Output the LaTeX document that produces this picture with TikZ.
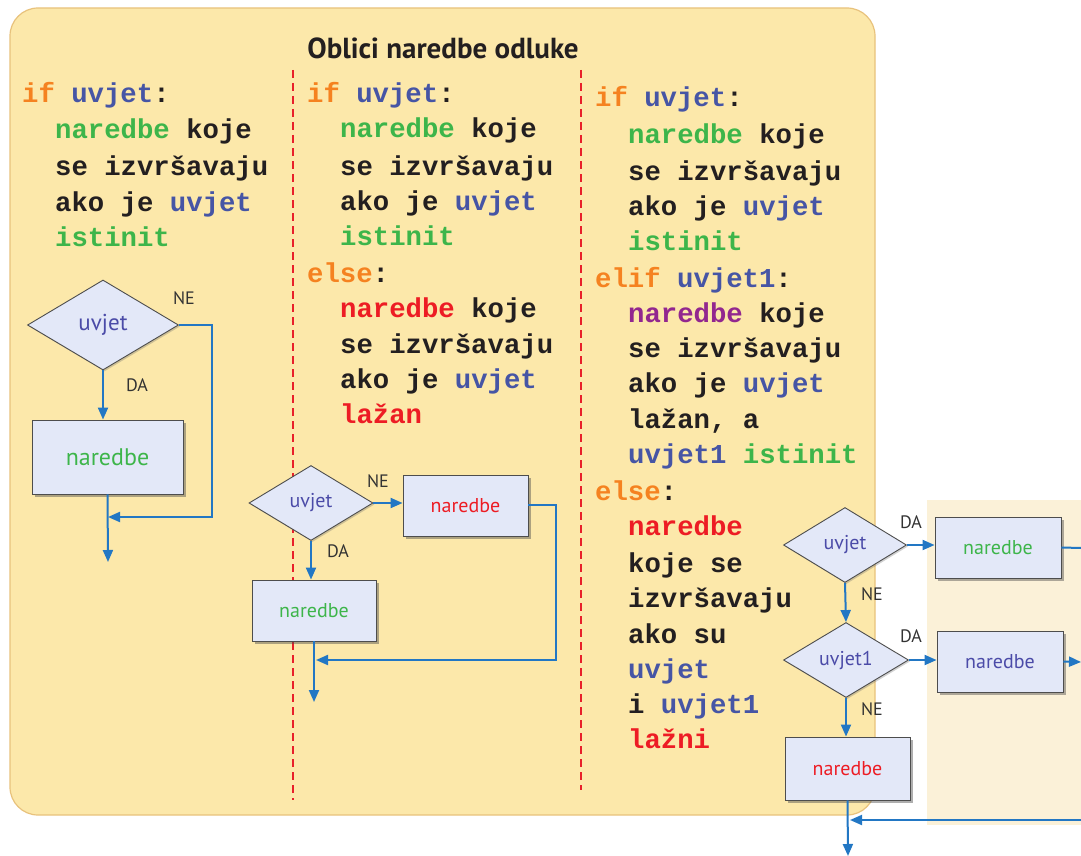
\documentclass[tikz,border=0pt]{standalone}
\usepackage{fontspec}
\usetikzlibrary{shapes.geometric,arrows.meta,shadows}
\newfontfamily\codefont{Liberation Mono}
\newfontfamily\labfont{PT Sans}
\definecolor{panel}{HTML}{FCE8AA}
\definecolor{panelb}{HTML}{FBF1D8}
\definecolor{boxedge}{HTML}{E8C27C}
\definecolor{kwor}{HTML}{F58220}
\definecolor{cblue}{HTML}{4655A5}
\definecolor{cgreen}{HTML}{3DB54A}
\definecolor{cred}{HTML}{ED1C24}
\definecolor{cpurple}{HTML}{92278F}
\definecolor{codetxt}{HTML}{231F20}
\definecolor{flowblue}{HTML}{2277C4}
\definecolor{boxfill}{HTML}{E3E8F8}
\definecolor{boxline}{HTML}{4D4D4D}
\definecolor{diatxt}{HTML}{4B4BA8}
\definecolor{labgray}{HTML}{333333}
\definecolor{dashred}{HTML}{E8202A}
\newcommand{\cKw}[1]{\textcolor{kwor}{#1}}
\newcommand{\cBl}[1]{\textcolor{cblue}{#1}}
\newcommand{\cGn}[1]{\textcolor{cgreen}{#1}}
\newcommand{\cRd}[1]{\textcolor{cred}{#1}}
\newcommand{\cPu}[1]{\textcolor{cpurple}{#1}}
\begin{document}
\begin{tikzpicture}[x=1pt,y=-1pt,
  codeln/.style={anchor=base west, inner sep=0pt, font=\codefont\bfseries\fontsize{27.3}{30}\selectfont, text=codetxt},
  dia/.style={diamond, draw=boxline, fill=boxfill, line width=0.9pt, inner sep=0pt, font=\labfont\fontsize{20}{22}\selectfont, text=diatxt,
     drop shadow={shadow xshift=1.5pt, shadow yshift=-1.5pt, fill=black!60, opacity=0.3}},
  fbox/.style={rectangle, draw=boxline, fill=boxfill, line width=0.9pt, inner sep=0pt, font=\labfont\fontsize{20}{22}\selectfont,
     drop shadow={shadow xshift=2.5pt, shadow yshift=-2.5pt, fill=black!70, opacity=0.45}},
  flowln/.style={draw=flowblue, line width=2pt},
  arr/.style={flowln, -{Triangle[length=12pt,width=10pt]}},
  yn/.style={font=\labfont\fontsize{18}{20}\selectfont, text=labgray, inner sep=0pt},
  reddash/.style={draw=dashred, line width=1.8pt, dash pattern=on 8pt off 5pt}]
\useasboundingbox (0,0) rectangle (1081,856);
% background panels
\draw[draw=boxedge, fill=panel, line width=1.2pt, rounded corners=28pt] (10,8) rectangle (875,815);
\fill[panelb] (927,500) rectangle (1081,825);
% title
\node[font=\labfont\bfseries\fontsize{29}{32}\selectfont, text=codetxt] (title) at (443,48) {Oblici naredbe odluke};
% dashed separators
\draw[reddash] (293,70) -- (293,800);
\draw[reddash] (581,70) -- (581,790);
% column 1 code
\node[codeln] (a1) at (22,103) {\cKw{if} \cBl{uvjet}:};
\node[codeln] (a2) at (55,139) {\cGn{naredbe} koje};
\node[codeln] (a3) at (55,175) {se izvršavaju};
\node[codeln] (a4) at (55,211) {ako je \cBl{uvjet}};
\node[codeln] (a5) at (55,246) {\cGn{istinit}};
% column 2 code
\node[codeln] (b1) at (307,103) {\cKw{if} \cBl{uvjet}:};
\node[codeln] (b2) at (340,138) {\cGn{naredbe} koje};
\node[codeln] (b3) at (340,175) {se izvršavaju};
\node[codeln] (b4) at (340,210) {ako je \cBl{uvjet}};
\node[codeln] (b5) at (340,245) {\cGn{istinit}};
\node[codeln] (b6) at (307,282) {\cKw{else}:};
\node[codeln] (b7) at (340,317) {\cRd{naredbe} koje};
\node[codeln] (b8) at (340,353) {se izvršavaju};
\node[codeln] (b9) at (340,388) {ako je \cBl{uvjet}};
\node[codeln] (b10) at (340,423) {\cRd{lažan}};
% column 3 code
\node[codeln] (c1) at (595,107) {\cKw{if} \cBl{uvjet}:};
\node[codeln] (c2) at (628,143) {\cGn{naredbe} koje};
\node[codeln] (c3) at (628,180) {se izvršavaju};
\node[codeln] (c4) at (628,215) {ako je \cBl{uvjet}};
\node[codeln] (c5) at (628,250) {\cGn{istinit}};
\node[codeln] (c6) at (595,287) {\cKw{elif} \cBl{uvjet1}:};
\node[codeln] (c7) at (628,322) {\cPu{naredbe} koje};
\node[codeln] (c8) at (628,357) {se izvršavaju};
\node[codeln] (c9) at (628,392) {ako je \cBl{uvjet}};
\node[codeln] (c10) at (628,428) {lažan, a};
\node[codeln] (c11) at (628,463) {\cBl{uvjet1} \cGn{istinit}};
\node[codeln] (c12) at (595,500) {\cKw{else}:};
\node[codeln] (c13) at (628,535) {\cRd{naredbe}};
\node[codeln] (c14) at (628,572) {koje se};
\node[codeln] (c15) at (628,607) {izvršavaju};
\node[codeln] (c16) at (628,643) {ako su};
\node[codeln] (c17) at (628,678) {\cBl{uvjet}};
\node[codeln] (c18) at (628,713) {i \cBl{uvjet1}};
\node[codeln] (c19) at (628,748) {\cRd{lažni}};
% ---- flowchart 1
\node[dia, minimum width=151pt, minimum height=90pt, font=\labfont\fontsize{23}{25}\selectfont] (D1) at (103,325) {uvjet};
\node[fbox, minimum width=151pt, minimum height=74pt, text=cgreen, font=\labfont\fontsize{24}{26}\selectfont] (B1) at (107.5,457) {naredbe};
\node[yn] (ne1) at (184,298) {NE};
\node[yn] (da1) at (137,385) {DA};
\coordinate (r1a) at (212,325);
\coordinate (r1b) at (212,517);
\coordinate (m1) at (108,517);
\coordinate (e1) at (108,562);
\draw[arr] (D1.south) -- (D1.south |- B1.north);
\draw[arr] (D1.east) -- (r1a) -- (r1b) -- (m1);
\draw[arr] (B1.south) -- (e1);
% ---- flowchart 2
\node[dia, minimum width=124pt, minimum height=75pt] (D2) at (311,503) {uvjet};
\node[fbox, minimum width=125pt, minimum height=61pt, text=cred] (B2b) at (465.5,505.5) {naredbe};
\node[fbox, minimum width=124pt, minimum height=61pt, text=cgreen] (B2a) at (314,610.5) {naredbe};
\node[yn] (ne2) at (378,481) {NE};
\node[yn] (da2) at (338,551) {DA};
\coordinate (r2a) at (556,505);
\coordinate (r2b) at (556,660);
\coordinate (m2) at (316,660);
\coordinate (e2) at (314,702);
\draw[arr] (D2.south) -- (D2.south |- B2a.north);
\draw[arr] (D2.east) -- (B2b.west |- D2.east);
\draw[arr] (B2b.east |- r2a) -- (r2a) -- (r2b) -- (m2);
\draw[arr] (B2a.south) -- (e2);
% ---- flowchart 3
\node[dia, minimum width=123pt, minimum height=75pt] (D3) at (845,545) {uvjet};
\node[dia, minimum width=125pt, minimum height=75pt] (D4) at (846,660) {uvjet1};
\node[fbox, minimum width=126pt, minimum height=61pt, text=cgreen] (B3a) at (998,547.5) {naredbe};
\node[fbox, minimum width=126pt, minimum height=61pt, text=diatxt] (B3b) at (1000,661.5) {naredbe};
\node[fbox, minimum width=125pt, minimum height=63pt, text=cred] (B3c) at (847.5,768.5) {naredbe};
\node[yn] (da3) at (911,522) {DA};
\node[yn] (ne3) at (872,594) {NE};
\node[yn] (da4) at (911,636) {DA};
\node[yn] (ne4) at (872,709) {NE};
\coordinate (x3a) at (1081,548);
\coordinate (x3b) at (1081,662);
\coordinate (x3c) at (1081,820);
\coordinate (m3) at (850,820);
\coordinate (e3) at (848,856);
\draw[arr] (D3.east) -- (B3a.west |- D3.east);
\draw[flowln] (B3a.east) -- (x3a);
\draw[arr] (D3.south) -- (D4.north);
\draw[arr] (D4.east) -- (B3b.west |- D4.east);
\draw[arr] (B3b.east) -- (x3b);
\draw[arr] (D4.south) -- (D4.south |- B3c.north);
\draw[arr] (B3c.south) -- (e3);
\draw[arr] (x3c) -- (m3);
\end{tikzpicture}
\end{document}
